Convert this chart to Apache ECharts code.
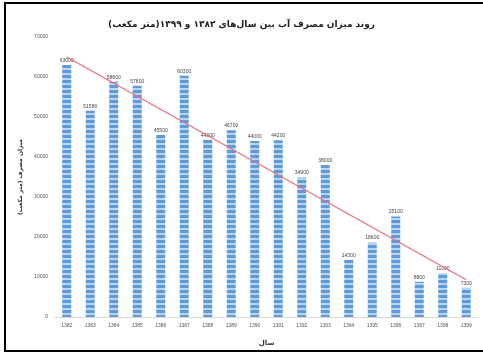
<!DOCTYPE html>
<html>
<head>
<meta charset="utf-8">
<script src="https://cdn.jsdelivr.net/npm/echarts@6/dist/echarts.min.js"></script>
<style>
  html, body { margin: 0; padding: 0; background: #fff; }
  #chart { width: 483px; height: 354px; }
</style>
</head>
<body>
<div id="chart"></div>
<script>
// Annual water consumption, 1382–1399 (cubic metres)
const years = ['1382','1383','1384','1385','1386','1387','1388','1389','1390',
               '1391','1392','1393','1394','1395','1396','1397','1398','1399'];
const consumption = [63000, 51580, 58800, 57800, 45500, 60300, 44300, 46700, 44000,
                     44200, 34900, 38000, 14300, 18600, 25100, 8800, 11000, 7300];
// Linear trend line end points (first and last year)
const trendEnds = [65000, 9300];
const yTicks = { min: 0, max: 70000, interval: 10000 };

const titleText = 'روند میزان مصرف آب بین سال‌های ۱۳۸۲ و ۱۳۹۹(متر مکعب)';
const yName = 'میزان مصرف (متر مکعب)';
const xName = 'سال';

// Striped fill for the columns
const tile = document.createElement('canvas');
tile.width = 4; tile.height = 5;
const ctx = tile.getContext('2d');
ctx.fillStyle = '#b9d5f2';
ctx.fillRect(0, 0, 4, 5);
ctx.fillStyle = '#5f9bd8';
ctx.fillRect(0, 0, 4, 3);

const chart = echarts.init(document.getElementById('chart'), null, { renderer: 'canvas' });
const persianFont = 'DejaVu Sans';

chart.setOption({
  animation: false,
  backgroundColor: '#fff',
  title: {
    text: titleText,
    left: 'center',
    top: 15,
    textStyle: { fontFamily: persianFont, fontSize: 9, fontWeight: 'bold', color: '#222' }
  },
  grid: { left: 55, right: 5, top: 37, bottom: 37, containLabel: false },
  xAxis: {
    type: 'category',
    data: years,
    name: xName,
    nameLocation: 'middle',
    nameGap: 23,
    nameTextStyle: { fontFamily: persianFont, fontSize: 7, fontWeight: 'bold', color: '#333' },
    axisTick: { show: false },
    axisLine: { lineStyle: { color: '#d9d9d9', width: 1 } },
    axisLabel: { fontSize: 5, color: '#555', margin: 6, interval: 0, fontFamily: 'Liberation Sans' }
  },
  yAxis: {
    type: 'value',
    min: yTicks.min,
    max: yTicks.max,
    interval: yTicks.interval,
    name: yName,
    nameLocation: 'middle',
    nameGap: 29,
    nameTextStyle: { fontFamily: persianFont, fontSize: 6, fontWeight: 'bold', color: '#333' },
    axisLine: { show: false },
    axisTick: { show: false },
    splitLine: { show: false },
    axisLabel: {
      fontSize: 5, color: '#555', margin: 7, fontFamily: 'Liberation Sans',
      formatter: v => String(v)
    }
  },
  series: [
    {
      type: 'bar',
      data: consumption,
      barWidth: 9,
      itemStyle: { color: { image: tile, repeat: 'repeat' } },
      label: {
        show: true,
        position: 'top',
        distance: 2,
        fontSize: 5,
        color: '#444',
        fontFamily: 'Liberation Sans'
      }
    },
    {
      type: 'line',
      data: [[0, trendEnds[0]], [years.length - 1, trendEnds[1]]],
      symbol: 'none',
      lineStyle: { color: '#e8707b', width: 1.3 },
      z: 5
    }
  ],
  graphic: [
    {
      type: 'rect',
      shape: { x: 5, y: 3, width: 490, height: 348 },
      style: { fill: 'none', stroke: '#000', lineWidth: 2 },
      silent: true
    }
  ]
});
</script>
</body>
</html>
